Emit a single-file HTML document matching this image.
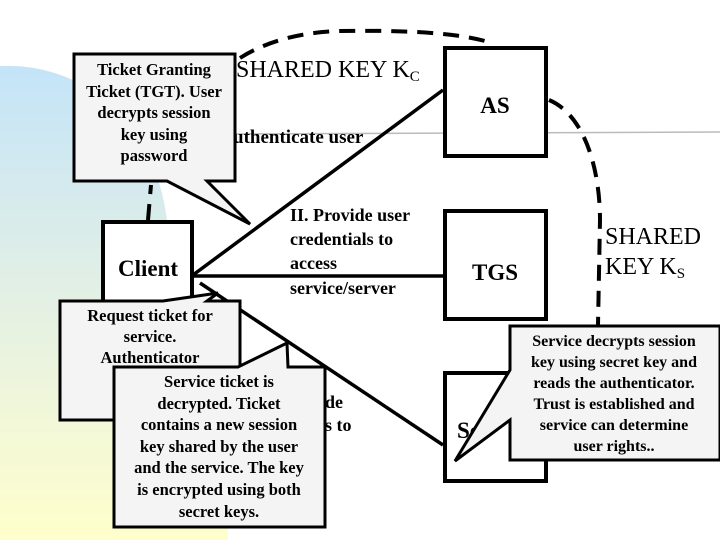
<!DOCTYPE html>
<html><head><style>
html,body{margin:0;padding:0;background:#fff}
svg{display:block}
text{font-family:"Liberation Serif",serif}
.b{font-weight:bold}
</style></head><body>
<svg width="720" height="540" viewBox="0 0 720 540" xmlns="http://www.w3.org/2000/svg">
<defs>
<linearGradient id="g" x1="0" y1="0" x2="0" y2="1">
<stop offset="0" stop-color="#c4e4f8"/>
<stop offset="0.5" stop-color="#e4f0e4"/>
<stop offset="1" stop-color="#ffffcc"/>
</linearGradient>
</defs>
<path d="M0,66 C90,62 160,130 168,230 L170,300 L228,330 L228,540 L0,540 Z" fill="url(#g)"/>
<line x1="232" y1="134" x2="720" y2="132" stroke="#bbb" stroke-width="1.5"/>
<g fill="none" stroke="#000" stroke-width="4" stroke-dasharray="16,10">
<path d="M240,58 C265,42 300,32 340,31 C410,30 460,33 492,43"/>
<path d="M549,100 C585,115 600,170 600,220 L598,325"/>
<path d="M148,220 L151,185"/>
</g>
<g stroke="#000" stroke-width="3.5" fill="none">
<line x1="193" y1="275" x2="443" y2="90"/>
<line x1="193" y1="276" x2="443" y2="276"/>
<line x1="200" y1="283" x2="443" y2="445"/>
</g>
<g fill="#fff" stroke="#000" stroke-width="4">
<rect x="445" y="48" width="101" height="108"/>
<rect x="445" y="211" width="101" height="108"/>
<rect x="445" y="373" width="101" height="108"/>
<rect x="103" y="222" width="89" height="100"/>
</g>
<text x="495" y="113" font-size="23" text-anchor="middle" class="b">AS</text>
<text x="495" y="280" font-size="23" text-anchor="middle" class="b">TGS</text>
<text x="457" y="438" font-size="23" class="b">Se</text>
<text x="148" y="276" font-size="23" text-anchor="middle" class="b">Client</text>
<text x="236" y="77" font-size="24">SHARED KEY K<tspan font-size="15" dy="4">C</tspan></text>
<text x="233" y="143" font-size="19" class="b">uthenticate user</text>
<g font-size="18" class="b">
<text x="290" y="221">II. Provide user</text>
<text x="290" y="245">credentials to</text>
<text x="290" y="269">access</text>
<text x="290" y="294">service/server</text>
<text x="325" y="408">de</text>
<text x="325" y="431">s to</text>
</g>
<text x="605" y="244" font-size="24">SHARED</text>
<text x="605" y="274" font-size="24">KEY K<tspan font-size="15" dy="4">S</tspan></text>
<g fill="#f4f4f4" stroke="#000" stroke-width="3">
<path d="M74,54 H235 V181 H207 L250,224 L167,181 H74 Z"/>
<path d="M60,301 H163 L218,293 L207,301 H240 V420 H60 Z"/>
<path d="M114,367 H238 L287,343 L288,367 H325 V527 H114 Z"/>
<path d="M510,326 H720 V460 H510 V420 L455,461 L510,370 Z"/>
</g>
<g font-size="16.5" class="b" text-anchor="middle">
<text x="154" y="75">Ticket Granting</text>
<text x="154" y="97">Ticket (TGT). User</text>
<text x="154" y="118">decrypts session</text>
<text x="154" y="140">key using</text>
<text x="154" y="161">password</text>
<text x="150" y="321">Request ticket for</text>
<text x="150" y="342">service.</text>
<text x="150" y="363">Authenticator</text>
<text x="150" y="384">enc</text>
<text x="150" y="405">s</text>
</g>
<rect x="115.5" y="368.5" width="208" height="157" fill="#f4f4f4"/>
<g font-size="16.5" class="b" text-anchor="middle">
<text x="219" y="387">Service ticket is</text>
<text x="219" y="409">decrypted. Ticket</text>
<text x="219" y="430">contains a new session</text>
<text x="219" y="452">key shared by the user</text>
<text x="219" y="473">and the service. The key</text>
<text x="219" y="495">is encrypted using both</text>
<text x="219" y="517">secret keys.</text>
</g>
<g font-size="16" class="b" text-anchor="middle">
<text x="614" y="346">Service decrypts session</text>
<text x="614" y="367">key using secret key and</text>
<text x="614" y="388">reads the authenticator.</text>
<text x="614" y="409">Trust is established and</text>
<text x="614" y="430">service can determine</text>
<text x="614" y="451">user rights..</text>
</g>
</svg>
</body></html>
